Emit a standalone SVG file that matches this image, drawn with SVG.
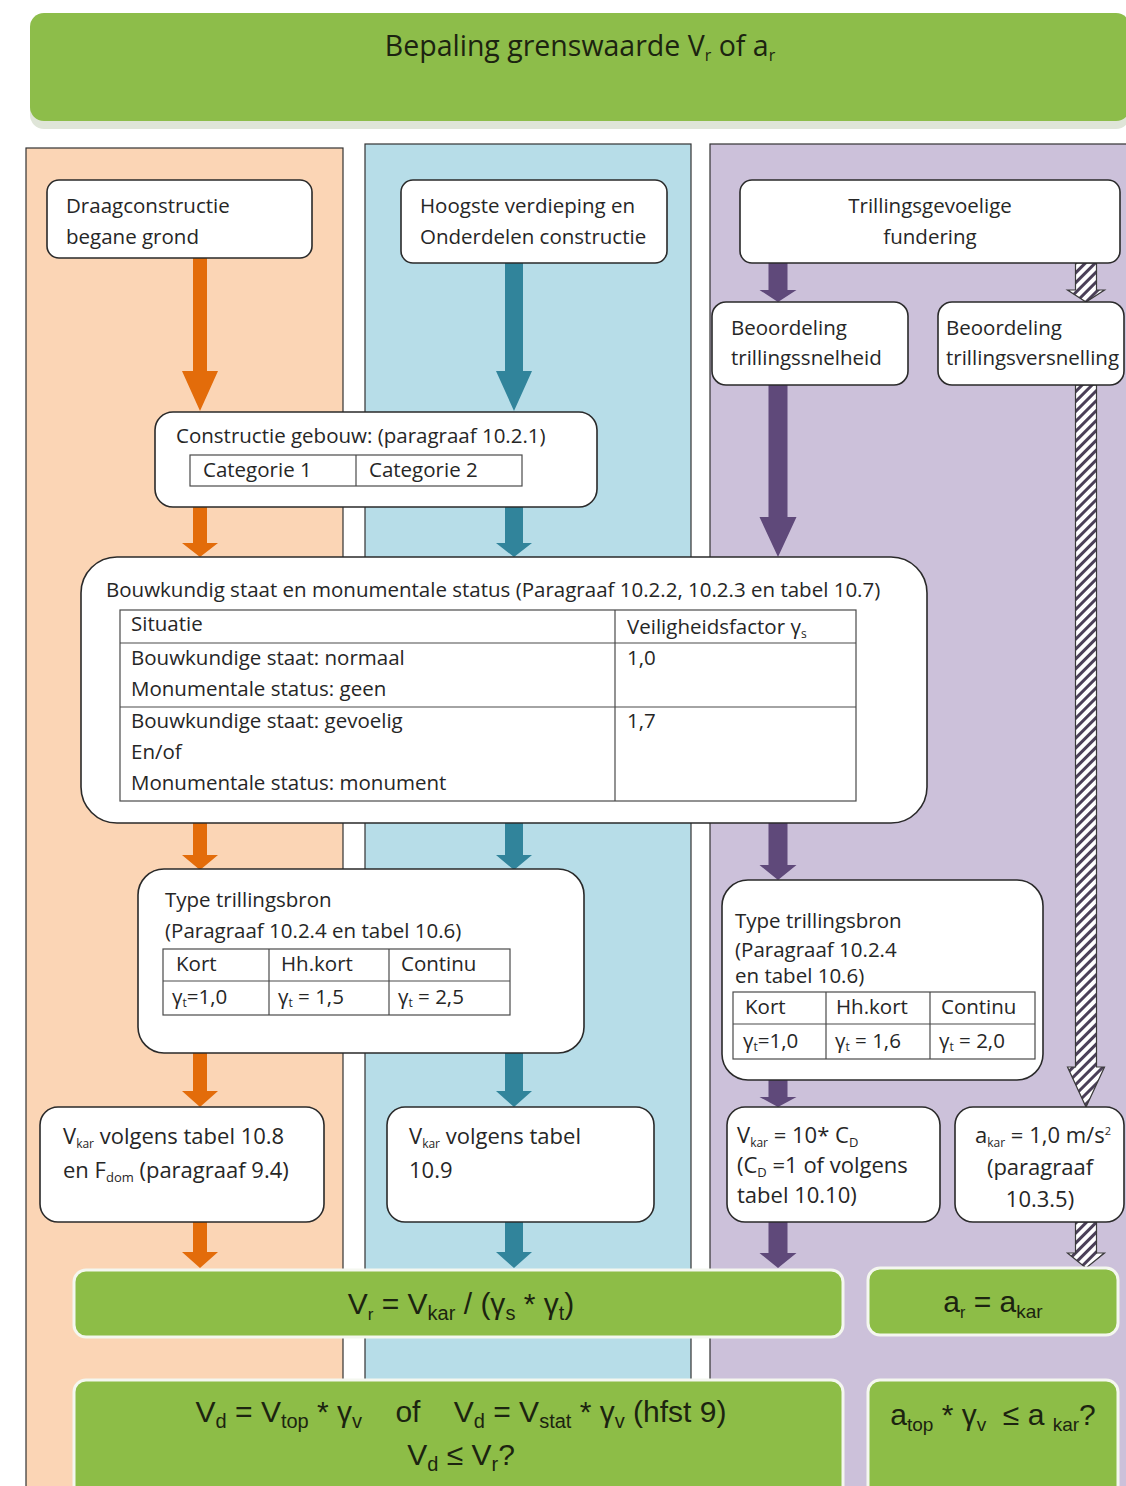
<svg xmlns="http://www.w3.org/2000/svg" width="1126" height="1486" viewBox="0 0 1126 1486">
<style>
.t{font-family:"Open Sans","Liberation Sans",Arial,sans-serif;font-size:20.5px;fill:#262626}
.tb{font-family:"Open Sans","Liberation Sans",Arial,sans-serif;font-size:20.5px;fill:#262626}
.tl{font-family:"Open Sans","Liberation Sans",Arial,sans-serif;font-size:22px;fill:#262626}
.tg{font-family:"Liberation Sans",Arial,sans-serif;font-size:30px;fill:#1c2410}
.box{fill:#ffffff;stroke:#2a2a2a;stroke-width:1.6}
.grn{fill:#8dbd47;stroke:#f4f7ef;stroke-width:3}
.tbl{fill:none;stroke:#4a4a4a;stroke-width:1.2}
.col{stroke:#333;stroke-width:1.2}
.aO{fill:#e36c0a}
.aB{fill:#31849b}
.aP{fill:#5f497a}
.aH{fill:url(#hatch);stroke:#3a3a3a;stroke-width:1.2}
</style>
<defs>
<pattern id="hatch" patternUnits="userSpaceOnUse" width="7" height="7" patternTransform="rotate(45)">
<rect width="7" height="7" fill="#ffffff"/>
<rect width="3" height="7" fill="#4b4058"/>
</pattern>
</defs>
<rect width="1126" height="1486" fill="#ffffff"/>

<g id="header">
<rect x="30" y="17" width="1100" height="112" rx="14" fill="#dfe5d8"/>
<rect x="30" y="13" width="1100" height="108" rx="14" fill="#8dbd4a"/>
<text x="580" y="56" text-anchor="middle" style="font-family:'Open Sans','Liberation Sans',sans-serif;font-size:28.5px;fill:#1c2410">Bepaling grenswaarde V<tspan font-size="16" dy="5">r</tspan><tspan dy="-5"> of a</tspan><tspan font-size="16" dy="5">r</tspan></text>
</g>

<g id="columns">
<rect class="col" x="26" y="148" width="317" height="1345" fill="#fbd5b5"/>
<rect class="col" x="365" y="144" width="326" height="1349" fill="#b7dde8"/>
<rect class="col" x="710" y="144" width="420" height="1349" fill="#ccc1da"/>
</g>

<g id="connectors">
<polygon class="aO" points="193,258 207,258 207,371 218,371 200,411 182,371 193,371"/>
<polygon class="aO" points="193,507 207,507 207,543 218,543 200,557 182,543 193,543"/>
<polygon class="aO" points="193,823 207,823 207,855 218,855 200,870 182,855 193,855"/>
<polygon class="aO" points="193,1053 207,1053 207,1091 218,1091 200,1107 182,1091 193,1091"/>
<polygon class="aO" points="193,1222 207,1222 207,1252 218,1252 200,1268 182,1252 193,1252"/>

<polygon class="aB" points="505,263 523,263 523,371 532,371 514,411 496,371 505,371"/>
<polygon class="aB" points="505,507 523,507 523,543 532,543 514,557 496,543 505,543"/>
<polygon class="aB" points="505,823 523,823 523,855 532,855 514,870 496,855 505,855"/>
<polygon class="aB" points="505,1053 523,1053 523,1091 532,1091 514,1107 496,1091 505,1091"/>
<polygon class="aB" points="505,1222 523,1222 523,1252 532,1252 514,1268 496,1252 505,1252"/>

<polygon class="aP" points="768.5,263 787.5,263 787.5,290 796.5,290 778,302 759.5,290 768.5,290"/>
<polygon class="aP" points="768.5,385 787.5,385 787.5,517 796.5,517 778,557 759.5,517 768.5,517"/>
<polygon class="aP" points="768.5,823 787.5,823 787.5,865 796.5,865 778,880 759.5,865 768.5,865"/>
<polygon class="aP" points="768.5,1080 787.5,1080 787.5,1097 796.5,1097 778,1107 759.5,1097 768.5,1097"/>
<polygon class="aP" points="768.5,1222 787.5,1222 787.5,1253 796.5,1253 778,1268 759.5,1253 768.5,1253"/>

<polygon class="aH" points="1075.5,263 1096.5,263 1096.5,290 1104.5,290 1086,302 1067.5,290 1075.5,290"/>
<polygon class="aH" points="1075.5,385 1096.5,385 1096.5,1067 1104.5,1067 1086,1107 1067.5,1067 1075.5,1067"/>
<polygon class="aH" points="1075.5,1222 1096.5,1222 1096.5,1253 1104.5,1253 1086,1268 1067.5,1253 1075.5,1253"/>
</g>

<g id="draagconstructie">
<rect class="box" x="47" y="180" width="265" height="78" rx="12"/>
<text class="t" x="66" y="213">Draagconstructie</text>
<text class="t" x="66" y="244">begane grond</text>
</g>

<g id="hoogste-verdieping">
<rect class="box" x="401" y="180" width="266" height="83" rx="12"/>
<text class="t" x="420" y="213">Hoogste verdieping en</text>
<text class="t" x="420" y="244">Onderdelen constructie</text>
</g>

<g id="trillingsgevoelige-fundering">
<rect class="box" x="740" y="180" width="380" height="83" rx="12"/>
<text class="t" x="930" y="213" text-anchor="middle">Trillingsgevoelige</text>
<text class="t" x="930" y="244" text-anchor="middle">fundering</text>
</g>

<g id="beoordeling-snelheid">
<rect class="box" x="712" y="302" width="196" height="83" rx="14"/>
<text class="t" x="731" y="335">Beoordeling</text>
<text class="t" x="731" y="365">trillingssnelheid</text>
</g>

<g id="beoordeling-versnelling">
<rect class="box" x="938" y="302" width="186" height="83" rx="14"/>
<text class="t" x="946" y="335">Beoordeling</text>
<text class="t" x="946" y="365">trillingsversnelling</text>
</g>

<g id="constructie-gebouw">
<rect class="box" x="155" y="412" width="442" height="95" rx="18"/>
<text class="tb" x="176" y="443">Constructie gebouw: (paragraaf 10.2.1)</text>
<rect class="tbl" x="190" y="455" width="332" height="31"/>
<line class="tbl" x1="356" y1="455" x2="356" y2="486"/>
<text class="tb" x="203" y="477">Categorie 1</text>
<text class="tb" x="369" y="477">Categorie 2</text>
</g>

<g id="bouwkundig-staat">
<rect class="box" x="81" y="557" width="846" height="266" rx="36"/>
<text class="tb" x="106" y="597">Bouwkundig staat en monumentale status (Paragraaf 10.2.2, 10.2.3 en tabel 10.7)</text>
<rect class="tbl" x="120" y="610" width="736" height="191"/>
<line class="tbl" x1="615" y1="610" x2="615" y2="801"/>
<line class="tbl" x1="120" y1="643" x2="856" y2="643"/>
<line class="tbl" x1="120" y1="707" x2="856" y2="707"/>
<text class="tb" x="131" y="631">Situatie</text>
<text class="tb" x="627" y="634">Veiligheidsfactor γ<tspan font-size="12" dy="4">s</tspan></text>
<text class="tb" x="131" y="665">Bouwkundige staat: normaal</text>
<text class="tb" x="131" y="696">Monumentale status: geen</text>
<text class="tb" x="627" y="665">1,0</text>
<text class="tb" x="131" y="728">Bouwkundige staat: gevoelig</text>
<text class="tb" x="131" y="759">En/of</text>
<text class="tb" x="131" y="790">Monumentale status: monument</text>
<text class="tb" x="627" y="728">1,7</text>
</g>

<g id="type-trillingsbron-v">
<rect class="box" x="138" y="869" width="446" height="184" rx="26"/>
<text class="tb" x="165" y="907">Type trillingsbron</text>
<text class="tb" x="165" y="938">(Paragraaf 10.2.4 en tabel 10.6)</text>
<rect class="tbl" x="163" y="949" width="347" height="66"/>
<line class="tbl" x1="163" y1="981" x2="510" y2="981"/>
<line class="tbl" x1="269" y1="949" x2="269" y2="1015"/>
<line class="tbl" x1="389" y1="949" x2="389" y2="1015"/>
<text class="tb" x="176" y="971">Kort</text>
<text class="tb" x="281" y="971">Hh.kort</text>
<text class="tb" x="401" y="971">Continu</text>
<text class="tb" x="172" y="1004">γ<tspan font-size="12" dy="3">t</tspan><tspan dy="-3">=1,0</tspan></text>
<text class="tb" x="278" y="1004">γ<tspan font-size="12" dy="3">t</tspan><tspan dy="-3"> = 1,5</tspan></text>
<text class="tb" x="398" y="1004">γ<tspan font-size="12" dy="3">t</tspan><tspan dy="-3"> = 2,5</tspan></text>
</g>

<g id="type-trillingsbron-f">
<rect class="box" x="722" y="880" width="321" height="200" rx="26"/>
<text class="tb" x="735" y="928">Type trillingsbron</text>
<text class="tb" x="735" y="957">(Paragraaf 10.2.4</text>
<text class="tb" x="735" y="983">en tabel 10.6)</text>
<rect class="tbl" x="733" y="992" width="302" height="67"/>
<line class="tbl" x1="733" y1="1024" x2="1035" y2="1024"/>
<line class="tbl" x1="826" y1="992" x2="826" y2="1059"/>
<line class="tbl" x1="930" y1="992" x2="930" y2="1059"/>
<text class="tb" x="745" y="1014">Kort</text>
<text class="tb" x="836" y="1014">Hh.kort</text>
<text class="tb" x="941" y="1014">Continu</text>
<text class="tb" x="743" y="1048">γ<tspan font-size="12" dy="3">t</tspan><tspan dy="-3">=1,0</tspan></text>
<text class="tb" x="835" y="1048">γ<tspan font-size="12" dy="3">t</tspan><tspan dy="-3"> = 1,6</tspan></text>
<text class="tb" x="939" y="1048">γ<tspan font-size="12" dy="3">t</tspan><tspan dy="-3"> = 2,0</tspan></text>
</g>

<g id="vkar-tabel-10-8">
<rect class="box" x="40" y="1107" width="284" height="115" rx="18"/>
<text class="tl" x="63" y="1144">V<tspan font-size="12" dy="4">kar</tspan><tspan dy="-4"> volgens tabel 10.8</tspan></text>
<text class="tl" x="63" y="1178">en F<tspan font-size="13" dy="4">dom</tspan><tspan dy="-4"> (paragraaf 9.4)</tspan></text>
</g>

<g id="vkar-tabel-10-9">
<rect class="box" x="387" y="1107" width="267" height="115" rx="18"/>
<text class="tl" x="409" y="1144">V<tspan font-size="12" dy="4">kar</tspan><tspan dy="-4"> volgens tabel</tspan></text>
<text class="tl" x="409" y="1178">10.9</text>
</g>

<g id="vkar-cd">
<rect class="box" x="727" y="1107" width="213" height="115" rx="18"/>
<text class="tl" x="737" y="1143">V<tspan font-size="12" dy="4">kar</tspan><tspan dy="-4"> = 10* C</tspan><tspan font-size="13" dy="4">D</tspan></text>
<text class="tl" x="737" y="1173">(C<tspan font-size="13" dy="4">D</tspan><tspan dy="-4"> =1 of volgens</tspan></text>
<text class="tl" x="737" y="1203">tabel 10.10)</text>
</g>

<g id="akar">
<rect class="box" x="955" y="1107" width="169" height="115" rx="18"/>
<text class="tl" x="1043" y="1143" text-anchor="middle">a<tspan font-size="12" dy="4">kar</tspan><tspan dy="-4"> = 1,0 m/s</tspan><tspan font-size="11" dy="-8">2</tspan></text>
<text class="tl" x="1040" y="1175" text-anchor="middle">(paragraaf</text>
<text class="tl" x="1040" y="1207" text-anchor="middle">10.3.5)</text>
</g>

<g id="vr-formule">
<rect class="grn" x="74" y="1270" width="769" height="67" rx="12"/>
<text class="tg" x="461" y="1314" text-anchor="middle">V<tspan font-size="17" dy="6">r</tspan><tspan dy="-6"> = V</tspan><tspan font-size="20" dy="6">kar</tspan><tspan dy="-6"> / (γ</tspan><tspan font-size="20" dy="6">s</tspan><tspan dy="-6"> * γ</tspan><tspan font-size="20" dy="6">t</tspan><tspan dy="-6">)</tspan></text>
</g>

<g id="ar-formule">
<rect class="grn" x="868" y="1268" width="250" height="67" rx="12"/>
<text class="tg" x="993" y="1312" text-anchor="middle" font-size="28">a<tspan font-size="16" dy="6">r</tspan><tspan dy="-6"> = a</tspan><tspan font-size="19" dy="6">kar</tspan></text>
</g>

<g id="vd-toets">
<rect class="grn" x="74" y="1380" width="769" height="120" rx="12"/>
<text class="tg" x="461" y="1422" text-anchor="middle" xml:space="preserve">V<tspan font-size="20" dy="6">d</tspan><tspan dy="-6"> = V</tspan><tspan font-size="20" dy="6">top</tspan><tspan dy="-6"> * γ</tspan><tspan font-size="20" dy="6">v</tspan><tspan dy="-6">    of    V</tspan><tspan font-size="20" dy="6">d</tspan><tspan dy="-6"> = V</tspan><tspan font-size="20" dy="6">stat</tspan><tspan dy="-6"> * γ</tspan><tspan font-size="20" dy="6">v</tspan><tspan dy="-6"> (hfst 9)</tspan></text>
<text class="tg" x="461" y="1465" text-anchor="middle">V<tspan font-size="20" dy="6">d</tspan><tspan dy="-6"> ≤ V</tspan><tspan font-size="20" dy="6">r</tspan><tspan dy="-6">?</tspan></text>
</g>

<g id="a-toets">
<rect class="grn" x="868" y="1380" width="250" height="120" rx="12"/>
<text class="tg" x="993" y="1425" text-anchor="middle" font-size="28" xml:space="preserve">a<tspan font-size="19" dy="6">top</tspan><tspan dy="-6"> * γ</tspan><tspan font-size="19" dy="6">v</tspan><tspan dy="-6">  ≤ a </tspan><tspan font-size="19" dy="6">kar</tspan><tspan dy="-6">?</tspan></text>
</g>
</svg>
